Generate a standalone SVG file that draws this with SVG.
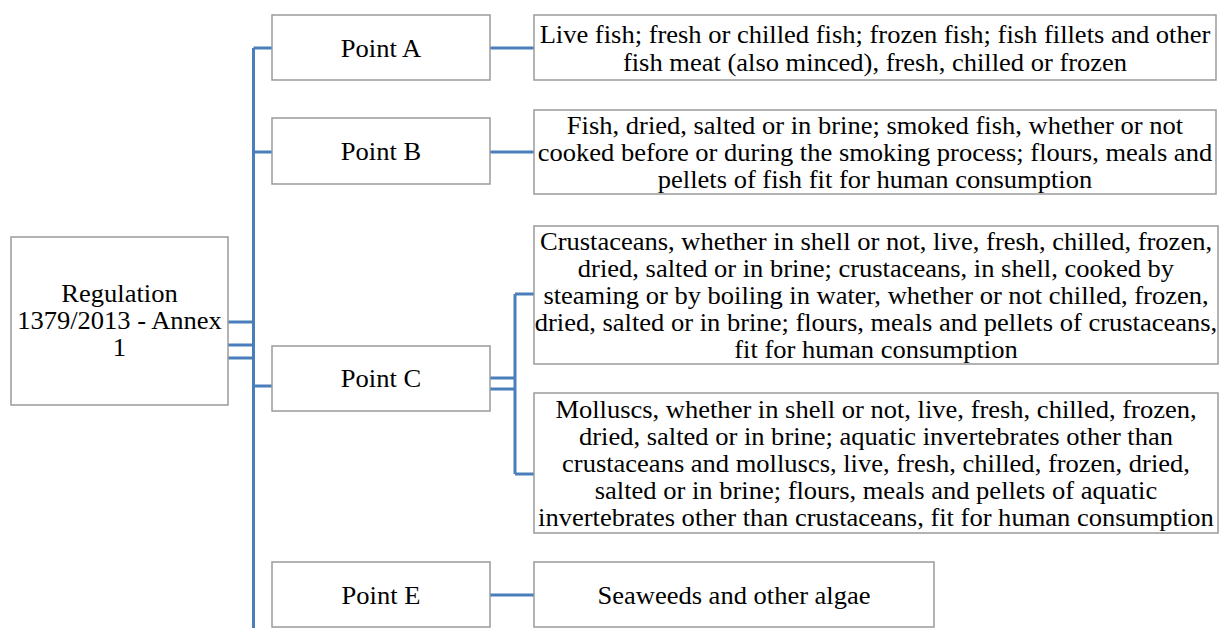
<svg xmlns="http://www.w3.org/2000/svg" width="1223" height="628" viewBox="0 0 1223 628">
<style>
.box{fill:#fff;stroke:#9a9a9a;stroke-width:1.5}
.t{font-family:"Liberation Serif","Times New Roman",serif;font-size:26px;fill:#000;text-anchor:middle;transform-box:fill-box;transform-origin:center;transform:scaleX(1.02)}
.c{fill:none;stroke:#4a7ebb;stroke-width:3}
</style>
<rect width="1223" height="628" fill="#fff"/>
<g id="connectors">
<path class="c" d="M253.5 48V628"/>
<path class="c" d="M253.5 48H272M253.5 152H272M253.5 386H272"/>
<path class="c" d="M228 322H253.5M228 345H253.5M228 358H253.5"/>
<path class="c" d="M490 48H534M490 152H534M490 595H534"/>
<path class="c" d="M490 378H515M490 389H515M515 294V474M515 294H534M515 474H534"/>
</g>
<g id="regulation"><rect class="box" x="11" y="237" width="217" height="168"/>
<text class="t" x="119.5" y="302">Regulation</text><text class="t" x="119.5" y="329">1379/2013 - Annex</text><text class="t" x="119.5" y="356">1</text></g>
<g id="pointA"><rect class="box" x="272" y="15" width="218" height="65"/><text class="t" x="381" y="57">Point A</text></g>
<g id="pointB"><rect class="box" x="272" y="118" width="218" height="66"/><text class="t" x="381" y="160">Point B</text></g>
<g id="pointC"><rect class="box" x="272" y="346" width="218" height="65"/><text class="t" x="381" y="387">Point C</text></g>
<g id="pointE"><rect class="box" x="272" y="562" width="218" height="65"/><text class="t" x="381" y="604">Point E</text></g>
<g id="detailA"><rect class="box" x="534" y="15" width="682" height="65"/>
<text class="t" x="875" y="43">Live fish; fresh or chilled fish; frozen fish; fish fillets and other</text>
<text class="t" x="875" y="71">fish meat (also minced), fresh, chilled or frozen</text></g>
<g id="detailB"><rect class="box" x="534" y="110" width="682" height="84"/>
<text class="t" x="875" y="134">Fish, dried, salted or in brine; smoked fish, whether or not</text>
<text class="t" x="875" y="161">cooked before or during the smoking process; flours, meals and</text>
<text class="t" x="875" y="188">pellets of fish fit for human consumption</text></g>
<g id="crustaceans"><rect class="box" x="534" y="226" width="684" height="138"/>
<text class="t" x="876" y="250">Crustaceans, whether in shell or not, live, fresh, chilled, frozen,</text>
<text class="t" x="876" y="277">dried, salted or in brine; crustaceans, in shell, cooked by</text>
<text class="t" x="876" y="304">steaming or by boiling in water, whether or not chilled, frozen,</text>
<text class="t" x="876" y="331">dried, salted or in brine; flours, meals and pellets of crustaceans,</text>
<text class="t" x="876" y="358">fit for human consumption</text></g>
<g id="molluscs"><rect class="box" x="534" y="393" width="684" height="140"/>
<text class="t" x="876" y="418">Molluscs, whether in shell or not, live, fresh, chilled, frozen,</text>
<text class="t" x="876" y="445">dried, salted or in brine; aquatic invertebrates other than</text>
<text class="t" x="876" y="472">crustaceans and molluscs, live, fresh, chilled, frozen, dried,</text>
<text class="t" x="876" y="499">salted or in brine; flours, meals and pellets of aquatic</text>
<text class="t" x="876" y="526">invertebrates other than crustaceans, fit for human consumption</text></g>
<g id="seaweeds"><rect class="box" x="534" y="562" width="400" height="65"/><text class="t" x="734" y="604">Seaweeds and other algae</text></g>
</svg>
